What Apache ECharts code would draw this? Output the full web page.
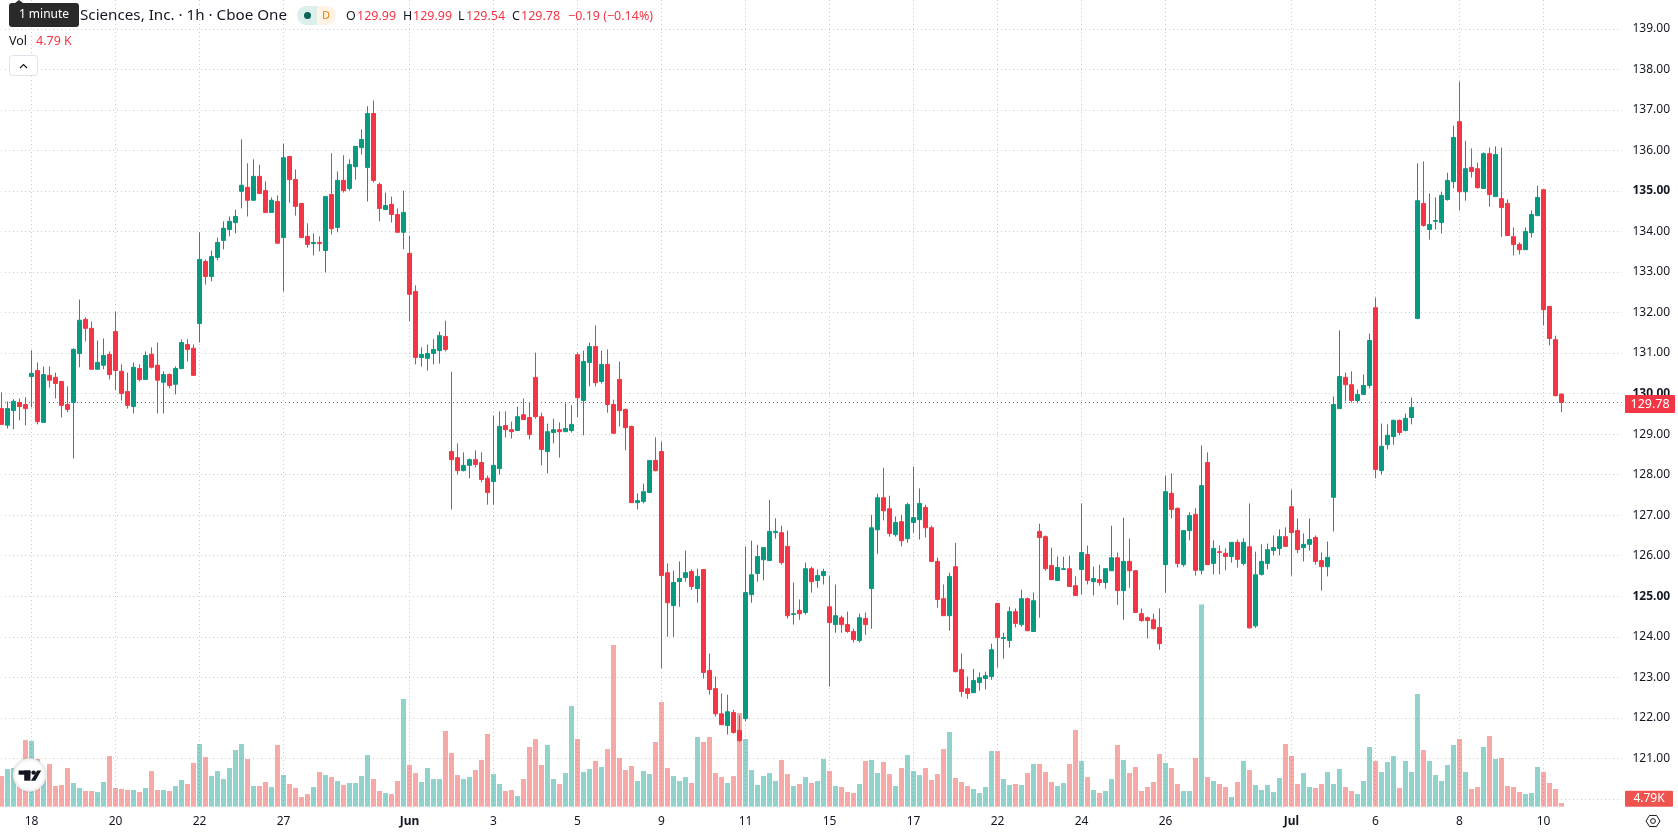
<!DOCTYPE html>
<html>
<head>
<meta charset="utf-8">
<title>Sciences, Inc. 1h candles</title>
<script src="https://cdn.jsdelivr.net/npm/echarts@6/dist/echarts.min.js"></script>
<style>html,body{margin:0;padding:0;background:#fff;overflow:hidden}#chart{width:1678px;height:835px}</style>
</head>
<body>
<div id="chart"></div>
<script>
const opens = [
129.63,129.22,129.58,129.78,129.73,130.42,130.57,129.29,130.45,130.40,
130.30,129.73,129.78,130.99,131.83,131.61,130.60,130.70,130.97,131.53,
130.55,130.05,129.68,130.62,130.35,130.97,130.70,130.28,130.47,130.23,
130.62,131.21,131.12,131.73,133.26,132.89,133.36,133.78,134.05,134.22,
134.99,135.09,134.77,135.36,135.01,134.47,134.74,133.85,135.85,135.28,
134.69,133.88,133.70,133.73,133.53,134.91,134.10,135.26,135.06,135.60,
136.07,135.58,136.91,135.16,134.54,134.67,134.42,133.98,133.46,132.52,
130.89,130.87,130.99,131.06,131.41,128.57,128.42,128.10,128.23,128.37,
128.30,127.91,127.83,128.15,129.21,129.11,129.09,129.48,129.41,130.40,
129.43,128.57,129.04,129.11,129.06,129.09,130.96,129.83,130.77,131.16,
130.30,130.72,129.73,130.35,129.61,129.19,127.31,127.34,127.56,128.35,
128.57,125.58,124.77,125.36,125.46,125.61,125.19,125.66,123.17,122.72,
122.10,121.81,122.13,121.69,121.98,125.04,125.56,125.90,125.88,126.57,
126.57,126.23,124.55,124.65,124.60,125.68,125.39,125.51,124.74,124.30,
124.47,124.30,124.13,123.91,124.45,125.19,126.64,127.43,127.16,126.52,
126.84,126.42,126.82,126.89,127.19,126.69,125.86,124.94,124.52,125.73,
123.19,122.72,122.62,122.87,122.97,123.02,124.82,123.96,123.91,124.62,
124.30,124.94,124.13,126.60,126.47,125.76,125.39,125.66,125.68,125.26,
125.66,126.03,125.36,125.41,125.34,125.63,125.95,125.14,125.86,125.63,
124.57,124.47,124.42,124.23,125.78,127.54,127.17,125.78,126.62,127.02,
125.64,128.30,125.81,126.10,126.06,125.98,126.33,125.81,126.22,124.27,
125.54,125.81,126.13,126.18,126.47,127.21,126.62,126.20,126.28,126.45,
125.88,125.73,127.44,129.63,130.40,130.22,129.83,129.98,130.20,132.12,
128.10,128.74,128.94,129.34,129.09,129.41,131.85,134.69,134.05,134.25,
134.22,134.79,135.23,136.71,134.98,135.58,135.55,135.06,135.92,134.86,
134.81,134.69,133.87,133.68,133.55,133.97,134.39,135.03,132.15,131.33,129.99
];
const highs = [
130.03,129.81,129.86,129.88,129.91,131.07,130.77,130.67,130.67,130.52,
130.30,130.18,131.12,132.32,131.88,131.78,131.31,131.36,131.04,132.03,
130.72,130.52,130.77,130.72,131.04,131.14,131.26,130.55,130.50,130.67,
131.34,131.34,131.21,133.98,133.31,133.53,133.85,134.25,134.37,134.54,
136.27,135.68,135.78,135.65,135.24,134.84,134.89,136.17,135.85,135.53,
134.69,134.20,133.95,133.88,134.86,135.93,135.48,135.88,135.78,136.10,
136.52,137.09,137.23,135.21,134.96,134.86,134.57,135.01,133.90,132.67,
131.14,131.21,131.34,131.53,131.80,130.54,128.77,128.55,128.40,128.60,
128.55,127.98,129.46,129.56,129.56,129.31,129.68,129.88,129.78,131.01,
129.53,129.26,129.38,129.29,129.76,129.71,131.01,131.06,131.26,131.68,
131.06,131.09,129.85,130.79,129.63,129.21,127.54,127.78,128.35,128.92,
128.82,125.81,125.63,125.86,126.13,125.66,125.68,125.66,123.59,123.02,
122.60,122.57,122.20,122.06,126.23,126.37,126.27,126.20,127.38,126.92,
126.74,126.62,125.34,124.92,125.83,125.73,125.66,125.68,125.51,125.29,
124.52,124.62,124.20,124.57,124.60,127.01,127.53,128.17,127.48,126.97,
127.01,127.31,128.20,127.66,127.26,126.74,125.95,125.29,125.58,126.32,
123.59,123.02,123.21,123.12,123.14,123.83,124.82,124.10,124.74,124.70,
125.16,124.97,125.09,126.79,126.50,126.20,125.98,125.98,126.00,125.49,
127.29,126.25,125.73,125.78,125.68,126.74,126.08,126.94,126.42,125.63,
124.70,124.50,124.57,124.70,127.98,128.03,127.19,126.62,127.07,127.17,
128.72,128.55,126.38,126.25,126.18,126.33,126.40,126.43,127.29,126.10,
126.28,126.30,126.50,126.65,126.70,127.63,126.92,126.55,126.92,126.50,
126.08,126.35,129.93,131.56,130.52,130.55,130.10,130.47,131.48,132.37,
129.26,129.24,129.36,129.36,129.51,129.90,135.68,135.73,134.94,134.84,
134.98,135.45,136.61,137.70,136.24,136.05,135.70,135.95,136.07,136.10,
136.07,134.79,134.10,133.73,134.10,134.52,135.13,135.03,132.15,131.43,129.99
];
const lows = [
129.24,129.14,129.12,129.34,129.22,129.66,129.24,129.29,130.15,129.88,
129.41,129.54,128.40,130.65,131.29,130.60,130.60,130.60,130.35,130.08,
129.83,129.63,129.51,130.30,130.35,130.62,129.51,129.51,130.13,129.98,
130.60,130.79,130.45,131.26,132.69,132.77,133.29,133.56,133.88,133.95,
134.57,134.37,134.77,134.94,134.45,134.47,133.71,132.52,134.71,134.39,
133.85,133.60,133.41,133.51,132.99,133.93,133.98,134.96,135.01,135.28,
135.90,134.74,135.21,134.25,134.54,134.22,133.98,133.56,131.78,130.72,
130.67,130.57,130.72,130.74,131.04,127.14,128.00,128.08,127.91,128.18,
127.81,127.26,127.26,128.00,128.92,128.89,129.09,129.36,128.87,129.38,
128.23,128.03,128.77,128.42,129.06,129.04,129.41,128.97,130.18,130.18,
130.25,129.53,129.02,129.19,128.60,127.31,127.14,127.29,127.56,128.08,
123.22,124.00,124.00,124.74,125.36,125.16,124.84,122.97,122.57,122.03,
121.83,121.59,121.61,121.41,121.91,124.84,125.36,125.39,125.88,126.42,
125.78,124.45,124.30,124.42,124.55,125.09,125.21,125.29,122.77,124.10,
124.10,124.10,123.86,123.86,124.05,124.20,126.05,126.87,126.47,126.47,
126.23,126.32,126.57,126.40,126.45,125.86,124.72,124.52,124.15,123.12,
122.52,122.47,122.62,122.67,122.70,122.94,123.24,123.46,123.73,124.23,
124.25,124.15,124.13,124.47,125.63,125.41,125.39,125.66,125.24,125.02,
125.04,125.29,125.02,125.26,125.19,125.63,124.79,124.42,125.21,124.60,
124.37,123.96,124.18,123.68,125.09,126.92,125.71,125.73,126.38,125.51,
125.54,125.78,125.54,125.54,125.64,125.83,125.71,125.76,124.20,124.22,
125.51,125.66,126.01,126.01,126.23,125.51,126.06,125.86,126.13,125.78,
125.14,125.49,126.60,129.63,129.81,129.78,129.76,129.98,130.13,127.91,
128.00,128.62,128.74,128.97,129.07,129.24,131.85,134.12,133.80,134.05,
133.95,134.76,135.06,134.52,134.76,135.33,135.06,135.06,134.61,134.86,
133.87,133.90,133.41,133.43,133.55,133.85,134.39,131.68,131.19,129.93,129.54
];
const closes = [
129.24,129.63,129.81,129.68,129.63,130.50,129.31,130.47,130.33,130.25,
129.71,129.61,131.09,131.81,131.61,130.60,130.77,130.94,130.47,130.57,
130.00,129.71,130.65,130.35,130.94,130.65,130.33,130.47,130.20,130.62,
131.26,131.09,130.45,133.31,132.89,133.38,133.73,134.08,134.25,134.37,
135.14,134.77,135.36,134.94,134.47,134.77,133.71,135.82,135.28,134.62,
133.85,133.68,133.73,133.70,134.86,134.07,135.26,135.01,135.65,136.10,
136.27,136.91,135.26,134.57,134.64,134.42,133.98,134.47,132.45,130.89,
130.97,130.99,131.09,131.43,131.09,128.37,128.10,128.23,128.37,128.25,
127.88,127.56,128.23,129.19,129.11,129.06,129.43,129.36,128.99,129.43,
128.62,129.06,129.11,129.06,129.14,129.24,129.90,130.79,131.16,130.27,
130.72,129.73,129.02,129.58,129.16,127.31,127.36,127.58,128.35,128.10,
125.51,124.84,125.34,125.44,125.58,125.24,125.49,123.12,122.70,122.10,
121.83,122.15,121.64,121.44,125.09,125.53,125.98,126.20,126.60,126.60,
125.83,124.52,124.57,124.57,125.68,125.36,125.51,125.61,124.35,124.52,
124.30,124.13,123.93,124.47,124.30,126.69,127.43,127.11,126.55,126.82,
126.37,127.26,126.94,127.29,126.69,125.86,124.92,124.52,125.49,123.14,
122.65,122.60,122.92,122.99,123.04,123.68,123.98,123.98,124.62,124.33,
124.94,124.15,124.89,126.45,125.68,125.41,125.71,125.68,125.24,125.02,
126.08,125.39,125.44,125.34,125.68,125.95,125.14,125.86,125.63,124.60,
124.40,124.40,124.20,123.83,127.58,127.14,125.81,126.62,126.99,125.64,
127.73,125.78,126.18,126.08,125.98,126.33,125.91,126.33,124.22,125.53,
125.86,126.15,126.20,126.47,126.23,126.57,126.15,126.28,126.40,125.86,
125.73,125.96,129.73,130.42,130.22,129.83,129.98,130.20,131.31,128.13,
128.70,128.97,129.34,129.04,129.39,129.66,134.76,134.15,134.17,134.27,
134.89,135.26,136.32,134.98,135.55,135.48,135.08,135.92,134.91,135.90,
134.59,133.90,133.68,133.55,134.00,134.42,134.84,132.07,131.36,129.95,129.78
];
// hourly volume, thousands of shares
const volumes = [
39.7,48.8,50.1,43.2,86.4,85.1,61.8,43.2,55.3,26.8,
28.1,50.1,30.7,24.2,20.3,20.3,19.0,32.0,65.7,24.2,
22.9,21.6,21.6,19.0,24.2,46.2,21.6,21.6,20.3,26.8,
34.6,29.4,56.6,81.2,64.4,39.7,46.2,35.9,50.1,73.4,
81.2,61.8,26.8,26.8,32.0,25.5,79.9,41.0,29.4,24.2,
12.5,16.4,25.5,44.9,41.0,38.4,33.3,28.1,30.7,30.7,
39.7,67.0,35.9,20.3,17.7,16.4,33.3,139.5,54.0,43.6,
32.0,50.1,35.9,35.9,98.1,69.6,41.0,35.9,38.4,47.5,
60.5,94.2,42.3,29.4,20.3,21.6,13.8,35.9,77.3,87.7,
54.0,79.9,35.9,29.4,43.6,130.5,87.7,44.9,48.8,59.2,
51.4,74.7,209.5,63.1,47.5,52.7,33.3,46.2,42.3,83.8,
135.6,50.1,39.7,33.3,38.4,30.7,90.3,83.8,90.3,43.6,
38.4,30.7,39.7,121.4,87.7,47.5,28.1,39.7,43.6,33.3,
60.5,42.3,26.8,29.4,38.4,30.7,33.3,61.8,46.2,26.8,
25.5,19.0,17.7,29.4,59.2,60.5,43.6,57.9,42.3,26.8,
50.1,67.0,46.2,41.0,50.1,34.6,42.3,74.7,96.8,37.2,
32.0,26.8,22.9,17.7,25.5,72.1,72.1,35.9,28.1,29.4,
28.1,43.6,55.3,55.3,44.9,32.0,26.8,30.7,55.3,99.4,
59.2,38.4,21.6,17.7,20.3,35.9,79.9,60.5,43.6,51.4,
20.3,25.5,32.0,68.3,56.6,50.1,29.4,20.3,20.3,63.1,
261.8,38.4,33.3,29.4,25.5,12.5,32.0,59.2,47.5,28.1,
21.6,28.1,19.0,37.2,81.2,65.7,29.4,43.6,25.5,24.2,
29.4,44.9,29.4,48.8,25.5,20.3,16.4,33.3,77.3,59.2,
44.9,57.9,65.7,24.2,59.2,44.9,146.0,73.4,59.2,41.0,
33.3,54.0,79.9,87.7,44.9,22.9,25.5,77.3,91.6,61.8,
63.1,26.8,25.5,19.0,16.4,17.7,51.4,44.9,30.7,22.9,4.79
];
const slotCount = 271;
const tickSlots = [5,19,33,47,68,82,96,110,124,138,152,166,180,194,215,229,243,257];
const tickLabels = ['18','20','22','27','Jun','3','5','9','11','15','17','22','24','26','Jul','6','8','10'];
const monthLabels = ['Jun','Jul'];
const boldPrices = [120,125,130,135];
const lowestPriceLabel = 120;
const lastPrice = 129.78;
const lastVolumeText = '4.79 K';
const lastVolumeTag = '4.79K';
const titleText = 'Sciences, Inc. \u00b7 1h \u00b7 Cboe One';
const ohlcReadout = [['O','129.99',346,357],['H','129.99',403,413],['L','129.54',458,466],['C','129.78',512,521]];
const changeText = '\u22120.19 (\u22120.14%)';

const UP = '#089981', DOWN = '#F23645';
const VOL_UP = 'rgba(38,166,154,0.5)', VOL_DOWN = 'rgba(239,83,80,0.5)';
const INK = '#131722', GRID = '#CCCCCC';
const FONT = '"Noto Sans", sans-serif';

const slots = Array.from({length: slotCount}, (_, i) => String(i));
const labelAt = new Map(tickSlots.map((s, k) => [String(s), tickLabels[k]]));
const isTick = idx => tickSlots.includes(idx);

const candles = opens.map((o, i) => [o, closes[i], lows[i], highs[i]]);
const volumeBars = volumes.map((v, i) => ({
  value: v,
  itemStyle: {color: closes[i] >= opens[i] ? VOL_UP : VOL_DOWN}
}));

const txt = (text, x, y, size, fill, extra) => ({
  type: 'text', z: 50,
  style: Object.assign({text, x, y, fill, font: size + 'px ' + FONT, verticalAlign: 'middle', align: 'left'}, extra || {})
});

const hexPoints = [0,1,2,3,4,5].map(k => {
  const a = k * Math.PI / 3;
  return [1653 + 7 * Math.cos(a), 821 + 6.4 * Math.sin(a)];
});

const overlay = [
  // tooltip over the symbol name
  {type:'polygon', z:50, shape:{points:[[15,3],[19,0],[23,3]]}, style:{fill:'#2A2A2A'}},
  {type:'rect', z:50, shape:{x:9,y:3,width:70,height:24,r:3}, style:{fill:'#2A2A2A'}},
  txt('1 minute', 44, 15, 12, '#FFFFFF', {align:'center'}),
  txt(titleText, 80, 16, 15.2, INK),
  // market status pill
  {type:'rect', z:50, shape:{x:297,y:6,width:20,height:19,r:[9,0,0,9]}, style:{fill:'#DCEFEC'}},
  {type:'rect', z:50, shape:{x:317,y:6,width:19,height:19,r:[0,9,9,0]}, style:{fill:'#FFF3E5'}},
  {type:'circle', z:51, shape:{cx:307.5,cy:15.5,r:3.5}, style:{fill:'#056656'}},
  txt('D', 326, 16, 11, '#F57C00', {align:'center'}),
  txt(changeText, 568, 16, 12.5, DOWN),
  txt('Vol', 9, 41, 12.5, INK),
  txt(lastVolumeText, 36, 41, 12.5, DOWN),
  // collapse button
  {type:'rect', z:50, shape:{x:9.5,y:55.5,width:28,height:20,r:3}, style:{fill:'#fff',stroke:'#E0E3EB',lineWidth:1}},
  {type:'polyline', z:51, shape:{points:[[20,68],[23.5,64.5],[27,68]]}, style:{fill:'none',stroke:INK,lineWidth:1.2}},
  // volume scale tag
  {type:'rect', z:50, shape:{x:1625,y:790.7,width:48,height:16,r:1}, style:{fill:'#EF5350'}},
  txt(lastVolumeTag, 1649, 799, 12, '#FFFFFF', {align:'center'}),
  // chart settings glyph
  {type:'polygon', z:50, shape:{points:hexPoints}, style:{fill:'none',stroke:INK,lineWidth:1}},
  {type:'circle', z:50, shape:{cx:1653,cy:821,r:2.4}, style:{fill:'none',stroke:INK,lineWidth:1}},
  // brand badge
  {type:'circle', z:50, shape:{cx:29.6,cy:775,r:16}, style:{fill:'#fff',stroke:'#EDEDED',lineWidth:1.5,shadowBlur:3,shadowColor:'rgba(0,0,0,0.12)'}},
  {type:'rect', z:51, shape:{x:18.6,y:770.5,width:11.8,height:4.2}, style:{fill:'#131722'}},
  {type:'rect', z:51, shape:{x:24.2,y:770.5,width:6.2,height:10.2}, style:{fill:'#131722'}},
  {type:'circle', z:51, shape:{cx:33.6,cy:772.6,r:2.2}, style:{fill:'#131722'}},
  {type:'polygon', z:51, shape:{points:[[37.2,770.5],[41.2,770.5],[35.4,780.7],[30.9,780.7]]}, style:{fill:'#131722'}}
];
ohlcReadout.forEach(r => {
  overlay.push(txt(r[0], r[2], 16, 12.5, INK));
  overlay.push(txt(r[1], r[3], 16, 12.5, DOWN));
});

const chart = echarts.init(document.getElementById('chart'), null, {renderer: 'canvas'});
chart.setOption({
  animation: false,
  backgroundColor: '#FFFFFF',
  textStyle: {fontFamily: FONT},
  grid: [
    // price pane runs past the window so that 119 and 140 fall outside it
    {left: 1.5, width: 1620, top: -11.7, height: 851.13, outerBoundsMode: 'none'},
    // volume pane shares the baseline with the time scale
    {left: 1.5, width: 1620, top: 0, height: 806.7, outerBoundsMode: 'none'}
  ],
  xAxis: [
    {type: 'category', gridIndex: 0, data: slots, boundaryGap: false, show: false},
    {
      type: 'category', gridIndex: 1, data: slots, boundaryGap: false,
      axisLine: {show: false}, axisTick: {show: false},
      axisLabel: {
        interval: idx => isTick(idx), margin: 9, fontSize: 12, color: INK, fontFamily: FONT,
        formatter: v => {
          const t = labelAt.get(v) || '';
          return monthLabels.includes(t) ? '{b|' + t + '}' : t;
        },
        rich: {b: {fontWeight: 'bold', fontSize: 12, color: INK, fontFamily: FONT}}
      },
      splitLine: {show: true, interval: idx => isTick(idx), lineStyle: {color: GRID, width: 1, type: [1, 3]}}
    }
  ],
  yAxis: [
    {
      type: 'value', gridIndex: 0, position: 'right', min: 119, max: 140, interval: 1,
      axisLine: {show: false}, axisTick: {show: false},
      axisLabel: {
        margin: 11, fontSize: 12, color: INK, fontFamily: FONT,
        formatter: v => {
          if (v < lowestPriceLabel) return '';
          const t = v.toFixed(2);
          return boldPrices.includes(v) ? '{b|' + t + '}' : t;
        },
        rich: {b: {fontWeight: 'bold', fontSize: 12, color: INK, fontFamily: FONT}}
      },
      // the half-pixel offset keeps each dot on a whole pixel column
      splitLine: {show: true, lineStyle: {color: GRID, width: 1, type: [1, 3], dashOffset: 0.5}}
    },
    {type: 'value', gridIndex: 1, min: 0, max: 1045, show: false, splitLine: {show: false}}
  ],
  series: [
    {
      name: 'Vol', type: 'bar', xAxisIndex: 1, yAxisIndex: 1, data: volumeBars,
      barWidth: 5, clip: false, silent: true, z: 1
    },
    {
      name: 'Price', type: 'candlestick', xAxisIndex: 0, yAxisIndex: 0, data: candles,
      barWidth: 5, clip: false, silent: true, z: 3,
      itemStyle: {color: UP, color0: DOWN, borderColor: UP, borderColor0: DOWN, borderWidth: 1},
      markLine: {
        silent: true, symbol: 'none', animation: false, precision: 2,
        lineStyle: {color: DOWN, width: 1, type: [1, 3], dashOffset: 0.5},
        label: {
          show: true, position: 'end', distance: 3.5, offset: [0, 1.5],
          formatter: () => lastPrice.toFixed(2),
          color: '#FFFFFF', backgroundColor: DOWN, fontSize: 12.5, fontFamily: FONT,
          padding: [3, 5.5, 2, 5.5], borderRadius: 1
        },
        data: [{yAxis: lastPrice}]
      }
    }
  ],
  graphic: {elements: overlay}
});
</script>
</body>
</html>
